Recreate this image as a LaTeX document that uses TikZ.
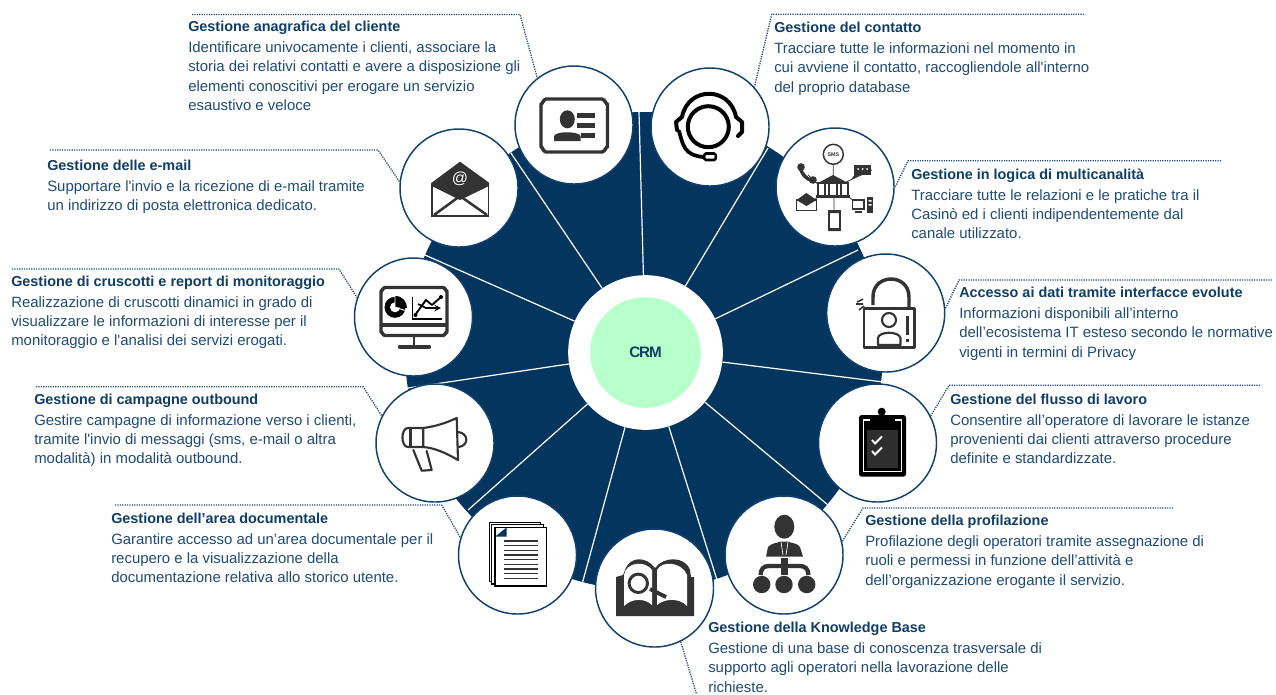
\documentclass[tikz,border=0pt]{standalone}
\usepackage{fontspec}
\setmainfont{Liberation Sans}[Ligatures=TeXOff]
\usetikzlibrary{positioning}

\definecolor{discblue}{HTML}{03355F}
\definecolor{ringblue}{HTML}{10406F}
\definecolor{bodyblue}{HTML}{1F4A75}
\definecolor{titleblue}{HTML}{0F3D66}
\definecolor{crmgreen}{HTML}{B7FFCB}
\definecolor{icongray}{HTML}{333333}

\newcommand{\infotitle}[1]{{\fontsize{10.8}{14.4}\bfseries\color{titleblue}#1}}

\begin{document}
\begin{tikzpicture}[
        x=0.75pt, y=-0.75pt,
        iconring/.style={circle, draw=ringblue, line width=1.1pt, fill=white, minimum size=88.5pt, inner sep=0pt},
        spoke/.style={draw=white, line width=0.9pt},
        leader/.style={draw=bodyblue, line width=1pt, dash pattern=on 0.9pt off 0.9pt},
        infotext/.style={anchor=north west, yshift=-1pt, inner sep=0pt, align=left, text=bodyblue, font=\fontsize{11.2}{14.4}\selectfont},
        ink/.style={draw=icongray, line width=1.6pt, line join=round, line cap=round},
        inkfill/.style={fill=icongray, draw=none}
        ]
        \useasboundingbox (0,0) rectangle (1276,694);

        % Disc and hub
        \fill[discblue] (644,351) circle[radius=239];
        \node[circle, fill=white, minimum size=116pt, inner sep=0pt] (hub) at (645.5,352.5) {};
        \node[circle, fill=crmgreen, minimum size=83pt, inner sep=0pt, text=titleblue, font=\fontsize{11.4}{12}\bfseries\addfontfeature{LetterSpace=-7}] (crm) at (645.5,352.5) {CRM};

        % Spokes
        \coordinate (spA) at (639,112);
        \coordinate (spB) at (768,148);
        \coordinate (spC) at (858,250);
        \coordinate (spD) at (881,381.7);
        \coordinate (spE) at (828,505);
        \coordinate (spF) at (716.7,579);
        \coordinate (spG) at (582.7,581.7);
        \coordinate (spH) at (468,510);
        \coordinate (spI) at (408,388);
        \coordinate (spJ) at (425,255);
        \coordinate (spK) at (510.7,152.7);
        \draw[spoke] (hub) -- (spA);
        \draw[spoke] (hub) -- (spB);
        \draw[spoke] (hub) -- (spC);
        \draw[spoke] (hub) -- (spD);
        \draw[spoke] (hub) -- (spE);
        \draw[spoke] (hub) -- (spF);
        \draw[spoke] (hub) -- (spG);
        \draw[spoke] (hub) -- (spH);
        \draw[spoke] (hub) -- (spI);
        \draw[spoke] (hub) -- (spJ);
        \draw[spoke] (hub) -- (spK);

        % Rings
        \node[iconring] (anagrafica) at (574,125) {};
        \node[iconring] (contatto) at (710,127) {};
        \node[iconring] (multicanale) at (835,187) {};
        \node[iconring] (accesso) at (885.7,313) {};
        \node[iconring] (flusso) at (877.5,443) {};
        \node[iconring] (profilazione) at (784,555) {};
        \node[iconring] (knowledge) at (654.5,588) {};
        \node[iconring] (documentale) at (517.5,555) {};
        \node[iconring] (campagne) at (435,443) {};
        \node[iconring] (cruscotti) at (413.5,317) {};
        \node[iconring] (email) at (459,188) {};

        % Leaders
        \coordinate (bendA) at (520,14.5);
        \coordinate (startA) at (192,14.5);
        \coordinate (bendB) at (771.7,14.3);
        \coordinate (startB) at (1084,14.3);
        \coordinate (bendC) at (908,160.7);
        \coordinate (startC) at (1221,160.7);
        \coordinate (bendD) at (959,280);
        \coordinate (startD) at (1272,280);
        \coordinate (bendE) at (949,385.3);
        \coordinate (startE) at (1260,385.3);
        \coordinate (bendF) at (863,508);
        \coordinate (startF) at (1173,508);
        \coordinate (endG) at (696.5,694);
        \coordinate (bendH) at (441.7,505);
        \coordinate (startH) at (115,505);
        \coordinate (bendI) at (363,386.7);
        \coordinate (startI) at (36,386.7);
        \coordinate (bendJ) at (339,269);
        \coordinate (startJ) at (12,269);
        \coordinate (bendK) at (378,150);
        \coordinate (startK) at (50,150);
        \draw[leader] (startA) -- (bendA) -- (anagrafica.128);
        \draw[leader] (startB) -- (bendB) -- (contatto.42);
        \draw[leader] (startC) -- (bendC) -- (multicanale.-1);
        \draw[leader] (startD) -- (bendD) -- (accesso.4);
        \draw[leader] (startE) -- (bendE) -- (flusso.27);
        \draw[leader] (startF) -- (bendF) -- (profilazione.13);
        \draw[leader] (knowledge.-64) -- (endG);
        \draw[leader] (startH) -- (bendH) -- (documentale.163);
        \draw[leader] (startI) -- (bendI) -- (campagne.153);
        \draw[leader] (startJ) -- (bendJ) -- (cruscotti.161);
        \draw[leader] (startK) -- (bendK) -- (email.174);

        % Texts
        \node[infotext] (tAnagrafica) at (188,19.5) {\infotitle{Gestione anagrafica del cliente}\\[1.4pt]
            Identificare univocamente i clienti, associare la\\
            storia dei relativi contatti e avere a disposizione gli\\
            elementi conoscitivi per erogare un servizio\\
            esaustivo e veloce};
        \node[infotext] (tContatto) at (774,20.5) {\infotitle{Gestione del contatto}\\[1.4pt]
            Tracciare tutte le informazioni nel momento in\\
            cui avviene il contatto, raccogliendole all'interno\\
            del proprio database};
        \node[infotext] (tMulticanale) at (911,167) {\infotitle{Gestione in logica di multicanalità}\\[1.4pt]
            Tracciare tutte le relazioni e le pratiche tra il\\
            Casinò ed i clienti indipendentemente dal\\
            canale utilizzato.};
        \node[infotext] (tAccesso) at (959,285.5) {\infotitle{Accesso ai dati tramite interfacce evolute}\\[1.4pt]
            Informazioni disponibili all’interno\\
            dell’ecosistema IT esteso secondo le normative\\
            vigenti in termini di Privacy};
        \node[infotext] (tFlusso) at (950,392) {\infotitle{Gestione del flusso di lavoro}\\[1.4pt]
            Consentire all’operatore di lavorare le istanze\\
            provenienti dai clienti attraverso procedure\\
            definite e standardizzate.};
        \node[infotext] (tProfilazione) at (865,513.5) {\infotitle{Gestione della profilazione}\\[1.4pt]
            Profilazione degli operatori tramite assegnazione di\\
            ruoli e permessi in funzione dell’attività e\\
            dell’organizzazione erogante il servizio.};
        \node[infotext] (tKnowledge) at (708,620.5) {\infotitle{Gestione della Knowledge Base}\\[1.4pt]
            Gestione di una base di conoscenza trasversale di\\
            supporto agli operatori nella lavorazione delle\\
            richieste.};
        \node[infotext] (tDocumentale) at (111,511) {\infotitle{Gestione dell’area documentale}\\[1.4pt]
            Garantire accesso ad un’area documentale per il\\
            recupero e la visualizzazione della\\
            documentazione relativa allo storico utente.};
        \node[infotext] (tCampagne) at (34,392) {\infotitle{Gestione di campagne outbound}\\[1.4pt]
            Gestire campagne di informazione verso i clienti,\\
            tramite l'invio di messaggi (sms, e-mail o altra\\
            modalità) in modalità outbound.};
        \node[infotext] (tCruscotti) at (11,274) {\infotitle{Gestione di cruscotti e report di monitoraggio}\\[1.4pt]
            Realizzazione di cruscotti dinamici in grado di\\
            visualizzare le informazioni di interesse per il\\
            monitoraggio e l'analisi dei servizi erogati.};
        \node[infotext] (tEmail) at (47,158) {\infotitle{Gestione delle e-mail}\\[1.4pt]
            Supportare l'invio e la ricezione di e-mail tramite\\
            un indirizzo di posta elettronica dedicato.};

        % Card icon
        \draw[ink, line width=2.6pt] (546,99) -- (602,99) to[out=0,in=-90] (607.5,104) -- (607.5,147) to[out=90,in=0] (602,152) -- (546,152) to[out=180,in=90] (541,147) -- (541,104) to[out=-90,in=180] cycle;
        \fill[icongray] (567.3,119.3) ellipse[x radius=7.5, y radius=9];
        \fill[icongray] (554,141) -- (554,136) .. controls (556,131) and (578,131) .. (580.7,136) -- (580.7,141) -- cycle;
        \draw[icongray, line width=3.4pt] (576.7,115.7) -- (595,115.7) (576.7,125.7) -- (595,125.7) (581,135.7) -- (595,135.7);

        % Headset icon
        \draw[black, line width=3pt] (708.3,126.7) circle[radius=20.5];
        \draw[black, line width=3pt, line cap=round, line join=round] (677,130) -- (676,122) -- (682,117) .. controls (688,86) and (730,86) .. (736,117) -- (742,122) -- (742,132) -- (738,136);
        \draw[black, line width=2.8pt, line cap=round] (679,131) .. controls (683,145) and (684,155) .. (703,157);
        \draw[black, line width=1.9pt, fill=white] (706,153.5) -- (714,153.5) to[out=0,in=0] (714,160) -- (706,160) to[out=180,in=180] cycle;

        % Multichannel icon
        \draw[icongray, line width=0.6pt] (833.3,165) -- (833.3,178) (808,175) -- (820,186) (872,170) -- (846,182) (805,205) -- (820,196) (834,196) -- (834,212) (848,196) -- (857,204);
        \draw[icongray, line width=1.1pt, fill=white] (833.3,154.3) circle[radius=10];
        \node[inner sep=0pt, text=icongray, font=\fontsize{4}{4}\bfseries] (smsmark) at (833.3,154.3) {SMS};
        \fill[icongray] (833,175) -- (848,183) -- (818,183) -- cycle;
        \draw[icongray, line width=1pt, fill=white] (818,183) rectangle (848,196);
        \fill[icongray] (816,195) rectangle (850,197.5);
        \draw[icongray, line width=1.2pt] (825,184) -- (825,195) (829,184) -- (829,195) (837,184) -- (837,195) (841,184) -- (841,195);
        \draw[icongray, line width=2.6pt, line cap=round] (800,166) .. controls (801,174) and (806,179) .. (813,181);
        \fill[icongray] (801,167) circle[radius=3.8] (813,180) circle[radius=3.8];
        \fill[icongray] (854,165) rectangle (871,175);
        \fill[icongray] (855,174) -- (851,180) -- (860,175) -- cycle;
        \fill[white] (858,169) circle[radius=1] (862.5,169) circle[radius=1] (867,169) circle[radius=1];
        \draw[icongray, line width=0.9pt, fill=white] (796.5,200) rectangle (816.5,210.5);
        \fill[icongray] (796.5,200) -- (806.5,193) -- (816.5,200) -- (806.5,206) -- cycle;
        \draw[icongray, line width=1.1pt, fill=white] (829,211) rectangle (840,230);
        \fill[icongray] (828.5,210) rectangle (840.5,213) (828.5,228) rectangle (840.5,231);
        \draw[icongray, line width=1.2pt, fill=white] (852.5,200) rectangle (864,209);
        \fill[icongray] (855,211) rectangle (862,212.5);
        \fill[icongray] (867,197) rectangle (873,213);
        \fill[white] (868.5,200) rectangle (871.5,201.5) (868.5,204) rectangle (871.5,205.5);

        % Lock icon
        \draw[ink, line width=2.6pt, line cap=butt] (873,305) -- (873,297) .. controls (873,273) and (909,273) .. (909,297) -- (909,308);
        \draw[ink] (863.8,308.5) rectangle (914.5,347.5);
        \draw[ink] (889,320) circle[radius=7];
        \draw[ink] (878,345) -- (878,338) .. controls (879,331) and (899,331) .. (900.5,338) -- (900.5,345) -- cycle;
        \draw[icongray, line width=2.2pt] (907.7,316) -- (907.7,335) (907.7,339) -- (907.7,342);
        \draw[icongray, line width=1.2pt] (857,302) -- (863,299) (856,304) -- (863,304) (859,310) -- (864,306);

        % Clipboard icon
        \fill[black, rounded corners=2pt] (859,415) rectangle (906,476.7);
        \fill[black] (881.7,411.7) circle[radius=4];
        \draw[white, line width=1pt] (863.5,420) rectangle (901.5,471.5);
        \fill[black] (870,417) rectangle (895,428);
        \fill[icongray!90!black] (866.7,430) rectangle (898,468);
        \draw[white, line width=1.4pt] (872,440) -- (875,443.5) -- (882,436.5) (872,451) -- (875,454.5) -- (882,447.5);

        % Person icon
        \fill[icongray] (784.3,526.7) ellipse[x radius=10, y radius=12];
        \fill[icongray] (766,556.7) -- (768,547) .. controls (771,543) and (778,543) .. (780,541.5) -- (788,541.5) .. controls (790,543) and (798,543) .. (800,547) -- (803,556.7) -- cycle;
        \draw[white, line width=0.5pt] (781,542) -- (783,555) (788,542) -- (786,555);
        \fill[icongray] (780.5,558) rectangle (787.5,575);
        \draw[icongray, line width=3.2pt] (760.5,575) .. controls (761,569) and (763,566) .. (769,566) -- (799,566) .. controls (806,566) and (808,569) .. (808.5,575);
        \fill[icongray] (761.7,584.5) circle[radius=8.7] (784,584.5) circle[radius=8.7] (806.7,584.5) circle[radius=8.7];

        % Book icon
        \fill[icongray] (616,616) -- (616,577) -- (623,575) -- (625,570) .. controls (630,556) and (646,556) .. (655,568) .. controls (664,556) and (685,556) .. (690,570) -- (691,577) -- (694,577) -- (694,616) -- cycle;
        \fill[white] (624,606) -- (624,575) .. controls (626,562) and (645,560) .. (652,570) -- (652,605) .. controls (645,598) and (632,598) .. (624,606) -- cycle;
        \fill[white] (657,570) .. controls (662,560) and (682,562) .. (687,575) -- (687,606) .. controls (680,598) and (665,598) .. (657,605) -- cycle;
        \draw[icongray, line width=2.2pt] (638.3,583.3) circle[radius=9.2];
        \draw[icongray, line width=3pt] (650,589) -- (666,597);

        % Document icon
        \draw[black, line width=0.8pt, fill=white] (489.3,522.3) rectangle (540.7,581.7);
        \draw[black, line width=0.8pt, fill=white] (491.7,524.3) rectangle (543.3,584);
        \draw[black, line width=0.9pt, fill=white] (495,527.3) rectangle (546.7,586);
        \fill[discblue] (495,536.7) -- (506.7,527.3) -- (506.7,536.7) -- cycle;
        \draw[icongray, line width=0.8pt] (504,541) -- (537.7,541) (504,545.7) -- (537.7,545.7) (504,550.3) -- (537.7,550.3) (504,555) -- (537.7,555) (504,559.6) -- (537.7,559.6) (504,564.3) -- (537.7,564.3) (504,569) -- (537.7,569) (504,573.6) -- (537.7,573.6) (504,578.3) -- (537.7,578.3);

        % Megaphone icon
        \draw[ink] (423.3,428) -- (408,428) to[out=180,in=180] (408,447) -- (423.3,447) -- cycle;
        \draw[ink] (410.5,428) -- (410.5,447);
        \draw[ink] (423.3,428) .. controls (438,426) and (448,422) .. (456.7,418) -- (458,460) .. controls (446,453) and (435,448) .. (423.3,447);
        \draw[ink] (458,432) .. controls (469,433) and (469,446) .. (458.5,447);
        \draw[ink] (413.3,450) -- (421.7,470.7) -- (431.7,470) -- (426.7,451);

        % Monitor icon
        \draw[ink, line width=2.6pt] (385,287.5) -- (443,287.5) to[out=0,in=-90] (447,291) -- (447,332) to[out=90,in=0] (443,335.5) -- (385,335.5) to[out=180,in=90] (381,332) -- (381,291) to[out=-90,in=180] cycle;
        \draw[icongray, line width=3pt] (381,325) -- (447,325);
        \draw[icongray, line width=2.2pt] (414,336.5) -- (414,346);
        \draw[icongray, line width=3.2pt, line cap=round] (400,346.7) -- (429,346.7);
        \fill[black] (395,307.3) circle[radius=10.5];
        \fill[white] (395,307.3) circle[radius=5];
        \fill[black] (395,307.3) -- (395,296) .. controls (403,296) and (407,302) .. (407,308) -- cycle;
        \draw[white, line width=0.7pt] (395,307.3) -- (395,296) (395,307.3) -- (407,311);
        \draw[black, line width=1.1pt] (412.3,296.7) -- (412.3,319) -- (441.7,319);
        \draw[black, line width=1.4pt, line join=round] (415,315) -- (426,300) -- (432,305) -- (441,297);
        \draw[black, line width=1.2pt, ->, >=stealth] (418,304) -- (426,308) -- (441,308);
        \fill[black] (415.5,315) circle[radius=2] (441,297) circle[radius=2];

        % Envelope icon
        \fill[icongray] (431.7,182.7) -- (460,161.7) -- (489,182.7) -- (489,186) -- (460,200) -- (431.7,186) -- cycle;
        \draw[icongray, line width=1.4pt] (432.3,183) -- (432.3,216) -- (488.5,216) -- (488.5,183);
        \draw[icongray, line width=1.9pt] (434,215) -- (460,196) -- (487,215);
        \node[inner sep=0pt, text=white, font=\fontsize{12}{12}\selectfont] (atmark) at (460,179) {@};
\end{tikzpicture}
\end{document}
